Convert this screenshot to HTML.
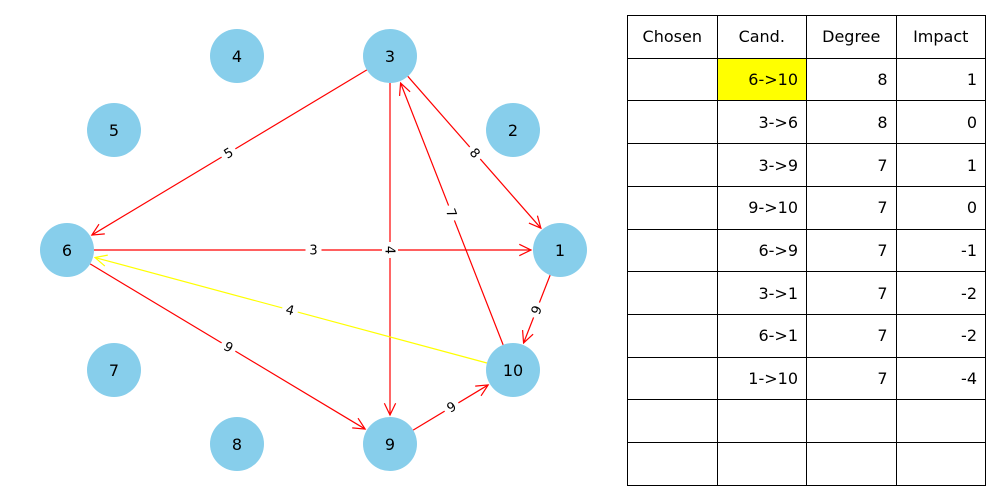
<!DOCTYPE html>
<html><head><meta charset="utf-8"><style>
body{margin:0;background:#fff;width:1000px;height:500px;overflow:hidden;font-family:"DejaVu Sans","Liberation Sans",sans-serif}
table{position:absolute;left:627px;top:15px;border-collapse:collapse;font-size:16px;table-layout:fixed;width:359px}
td{border:1px solid #000;width:89.5px;height:42.73px;padding:0 8px 0 0;text-align:right;box-sizing:border-box}
tr:first-child td{text-align:center;padding:0}
</style></head><body>
<svg id="s" width="620" height="500" style="position:absolute;left:0;top:0" font-family="DejaVu Sans, Liberation Sans, sans-serif"></svg>
<table>
<tr><td>Chosen</td><td>Cand.</td><td>Degree</td><td>Impact</td></tr>
<tr><td></td><td style="background:#ffff00">6-&gt;10</td><td>8</td><td>1</td></tr>
<tr><td></td><td>3-&gt;6</td><td>8</td><td>0</td></tr>
<tr><td></td><td>3-&gt;9</td><td>7</td><td>1</td></tr>
<tr><td></td><td>9-&gt;10</td><td>7</td><td>0</td></tr>
<tr><td></td><td>6-&gt;9</td><td>7</td><td>-1</td></tr>
<tr><td></td><td>3-&gt;1</td><td>7</td><td>-2</td></tr>
<tr><td></td><td>6-&gt;1</td><td>7</td><td>-2</td></tr>
<tr><td></td><td>1-&gt;10</td><td>7</td><td>-4</td></tr>
<tr><td></td><td></td><td></td><td></td></tr>
<tr><td></td><td></td><td></td><td></td></tr>
</table>
<script>
var N={4:[237,56],3:[390,56],5:[114,130],2:[513,130],6:[67,250],1:[560,250],7:[114,370],10:[513,370],8:[237,444],9:[390,444]};
var E=[[3,6,5,'red'],[3,1,8,'red'],[6,1,3,'red'],[3,9,4,'red'],[10,3,7,'red'],[1,10,9,'red'],[10,6,4,'#ffff00'],[6,9,9,'red'],[9,10,9,'red']];
var h='';
E.forEach(function(e){var a=N[e[0]],b=N[e[1]];var dx=b[0]-a[0],dy=b[1]-a[1],L=Math.hypot(dx,dy),ux=dx/L,uy=dy/L;
var x1=a[0]+ux*27,y1=a[1]+uy*27,x2=b[0]-ux*29,y2=b[1]-uy*29;
h+='<line x1="'+x1+'" y1="'+y1+'" x2="'+x2+'" y2="'+y2+'" stroke="'+e[3]+'" stroke-width="1.2"/>';
var ang=Math.atan2(uy,ux),s=13,w=0.45;
var p1=[x2-s*Math.cos(ang-w),y2-s*Math.sin(ang-w)],p2=[x2-s*Math.cos(ang+w),y2-s*Math.sin(ang+w)];
h+='<polyline points="'+p1+' '+x2+','+y2+' '+p2+'" fill="none" stroke="'+e[3]+'" stroke-width="1.2"/>';
var mx=(a[0]+b[0])/2,my=(a[1]+b[1])/2,deg=ang*180/Math.PI;
if(deg>90.5)deg-=180;if(deg<-90)deg+=180;
h+='<g transform="translate('+mx+','+my+') rotate('+deg+')"><rect x="-8" y="-8" width="16" height="16" fill="#fff"/><text x="0" y="4.5" font-size="13" text-anchor="middle">'+e[2]+'</text></g>';});
for(var k in N){h+='<circle cx="'+N[k][0]+'" cy="'+N[k][1]+'" r="27" fill="#87ceeb"/><text x="'+N[k][0]+'" y="'+(N[k][1]+6)+'" font-size="16" text-anchor="middle">'+k+'</text>';}
document.getElementById('s').innerHTML=h;
</script>
</body></html>
